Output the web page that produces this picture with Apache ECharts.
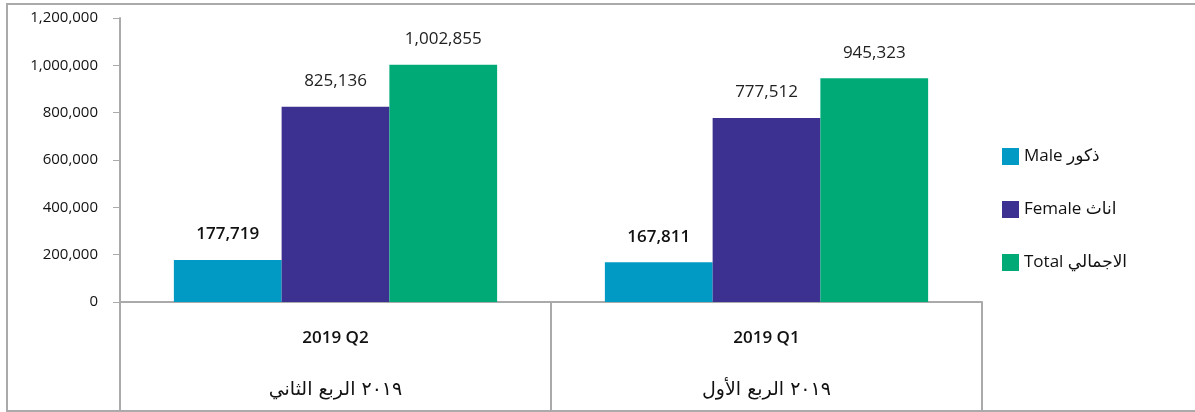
<!DOCTYPE html>
<html>
<head>
<meta charset="utf-8">
<script src="https://cdn.jsdelivr.net/npm/echarts@6/dist/echarts.min.js"></script>
<style>html,body{margin:0;padding:0;background:#fff;}#c{width:1195px;height:412px;}</style>
</head>
<body>
<div id="c"></div>
<script>
const categoriesEn = ['2019 Q2', '2019 Q1'];
const categoriesAr = ['٢٠١٩ الربع الثاني', '٢٠١٩ الربع الأول'];
const seriesNames = ['Male ذكور', 'Female اناث', 'Total الاجمالي'];
const maleValues = [177719, 167811];
const femaleValues = [825136, 777512];
const totalValues = [1002855, 945323];
const yTicks = [0, 200000, 400000, 600000, 800000, 1000000, 1200000];

const colors = ['#009ac4', '#3c3190', '#00aa77'];
const fmt = v => Number(v).toLocaleString('en-US');
const font = '"Open Sans", "Noto Sans", "DejaVu Sans", sans-serif';
const arFont = '"DejaVu Sans", "Noto Sans", sans-serif';

const chart = echarts.init(document.getElementById('c'));
function barSeries(name, data, idx, bold) {
  return {
    name: name,
    type: 'bar',
    data: data,
    barGap: '0%',
    barCategoryGap: '25%',
    itemStyle: { color: colors[idx] },
    label: {
      show: true,
      position: 'top',
      distance: 17,
      formatter: p => fmt(p.value),
      fontSize: 17,
      fontFamily: font,
      fontWeight: bold ? 600 : 'normal',
      color: bold ? '#111' : '#222'
    }
  };
}
chart.setOption({
  animation: false,
  color: colors,
  textStyle: { fontFamily: font },
  graphic: [{
    type: 'rect',
    shape: { x: 7, y: 4, width: 1210, height: 407 },
    style: { fill: 'none', stroke: '#aaaaaa', lineWidth: 2 },
    silent: true
  }],
  legend: {
    orient: 'vertical',
    left: 1002,
    top: 148,
    itemWidth: 17,
    itemHeight: 17,
    itemGap: 36,
    icon: 'rect',
    padding: 0,
    textStyle: { fontSize: 17, color: '#111', fontFamily: font },
    data: seriesNames
  },
  grid: { left: 120, right: 213, top: 18, bottom: 110, containLabel: false },
  xAxis: {
    type: 'category',
    data: categoriesEn,
    axisLine: { show: true, lineStyle: { color: '#aaaaaa', width: 2 } },
    axisTick: { show: true, length: 110, alignWithLabel: false, lineStyle: { color: '#aaaaaa', width: 2 } },
    axisLabel: {
      margin: 10,
      formatter: (v, i) => '{a|' + v + '}\n{b|' + categoriesAr[i] + '}',
      rich: {
        a: { fontSize: 17, lineHeight: 52, color: '#111', fontWeight: 600, fontFamily: font },
        b: { fontSize: 19, lineHeight: 52, color: '#111', fontFamily: arFont }
      }
    }
  },
  yAxis: {
    type: 'value',
    min: yTicks[0],
    max: yTicks[yTicks.length - 1],
    interval: 200000,
    axisLine: { show: true, lineStyle: { color: '#aaaaaa', width: 2 } },
    axisTick: { show: true, length: 7, lineStyle: { color: '#aaaaaa', width: 1 } },
    splitLine: { show: false },
    axisLabel: { margin: 22, fontSize: 15, color: '#111', fontFamily: font, formatter: v => fmt(v) }
  },
  series: [
    barSeries(seriesNames[0], maleValues, 0, true),
    barSeries(seriesNames[1], femaleValues, 1, false),
    barSeries(seriesNames[2], totalValues, 2, false)
  ]
});
</script>
</body>
</html>
